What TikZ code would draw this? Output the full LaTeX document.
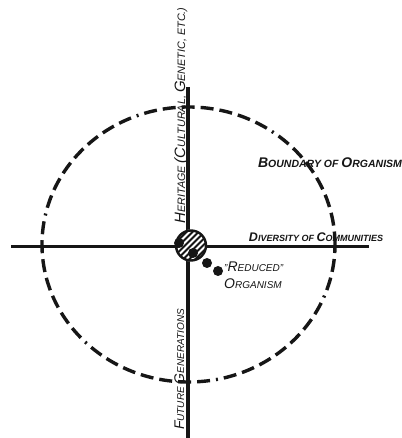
\documentclass[tikz,border=0pt]{standalone}
\usepackage{fontspec}
\setmainfont{Liberation Sans}
\usetikzlibrary{positioning}
\definecolor{InkBlack}{RGB}{22,22,22}
\newcommand\bigc[1]{{\fontsize{14}{14}\selectfont #1}}
\newcommand\bigd[1]{{\fontsize{12.5}{14}\selectfont #1}}
\newcommand\bige[1]{{\fontsize{15}{15}\selectfont #1}}

\begin{document}
\begin{tikzpicture}[x=1pt,y=1pt,
    axis/.style={line width=3.2pt,InkBlack},
    boundary/.style={line width=3.4pt,InkBlack,
      dash pattern=on 13pt off 6pt on 13pt off 6pt on 13pt off 6pt on 13pt off 6pt
                   on 13pt off 6pt on 13pt off 6pt on 13pt off 6pt on 2pt off 6pt},
    dot/.style={circle,fill=InkBlack,inner sep=0pt,minimum size=10pt},
    lbl/.style={font=\itshape\fontsize{10}{12}\selectfont,inner sep=0pt,text=InkBlack},
    blbl/.style={lbl,font=\bfseries\itshape\fontsize{10.5}{12}\selectfont}]
  \useasboundingbox (0,0) rectangle (401,438);
  \coordinate (north) at (188,351);
  \coordinate (south) at (188,0);
  \coordinate (west) at (11,191.5);
  \coordinate (east) at (369,191.5);
  \coordinate (centre) at (188.5,193.5);
  \draw[boundary] (centre) ellipse[x radius=146.5pt,y radius=137.5pt];
  \draw[axis] (north) -- (south);
  \draw[axis] (west) -- (east);
  \node[circle,fill=white,minimum size=32pt,inner sep=0pt] (core) at (191,192.5) {};
  \begin{scope}
    \clip (191,192.5) circle (15pt);
    \foreach \d in {-36,-30,...,36}
      \draw[line width=1.8pt,InkBlack] (171+\d,172.5) -- ++(40,40);
  \end{scope}
  \draw[line width=2.4pt,InkBlack] (core.center) circle (15pt);
  \foreach \p [count=\i] in {(179,195),(193,185),(207,175),(218,167)}
    \node[dot] (d\i) at \p {};
  \node[lbl,rotate=90,anchor=base,font=\itshape\fontsize{10.8}{12}\selectfont] (heritage)
    at (185,322.5) {\bige{H}ERITAGE \bige{(C}ULTURAL, \bige{G}ENETIC, ETC.)};
  \node[lbl,rotate=90,anchor=base] (future) at (184,68.5)
    {\bigc{F}UTURE \bigc{G}ENERATIONS};
  \node[blbl,font=\bfseries\itshape\fontsize{9}{12}\selectfont] (diversity) at (316,201)
    {\bigd{D}IVERSITY OF \bigd{C}OMMUNITIES};
  \node[blbl] (boundary) at (330,275) {\bigc{B}OUNDARY OF \bigc{O}RGANISM};
  \node[lbl,anchor=west] (reduced) at (224,171) {"\bigc{R}EDUCED"};
  \node[lbl,below=6pt of reduced.south west,anchor=north west] (organism)
    {\bigc{O}RGANISM};
\end{tikzpicture}
\end{document}
